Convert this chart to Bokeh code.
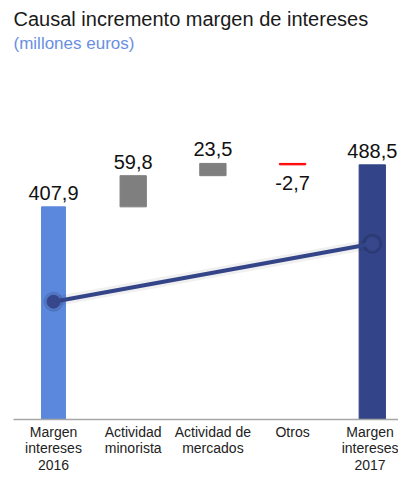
from bokeh.plotting import figure
from bokeh.models import Range1d, FixedTicker, Title, ColumnDataSource
from bokeh.core.properties import value
from bokeh.embed import file_html
from bokeh.resources import INLINE

# ---- data ----
categories = ["Margen\nintereses\n2016", "Actividad\nminorista", "Actividad de\nmercados",
              "Otros", "Margen\nintereses\n2017"]
valores = [407.9, 59.8, 23.5, -2.7, 488.5]          # inicial, variaciones, final
etiquetas = ["407,9", "59,8", "23,5", "-2,7", "488,5"]
linea_y = [226.0, 337.0]                              # línea de evolución (mismas unidades)

FONT = "Liberation Sans"

# waterfall geometry from values
n = len(valores)
xs = list(range(n))
bottoms, tops = [], []
acc = 0.0
for i, v in enumerate(valores):
    if i == 0 or i == n - 1:
        bottoms.append(0.0); tops.append(v); acc = v
    else:
        bottoms.append(min(acc, acc + v)); tops.append(max(acc, acc + v)); acc += v
colors = ["#5b87dc", "#7f7f7f", "#7f7f7f", "#ff0000", "#334488"]
widths = [0.30, 0.33, 0.33, 0.33, 0.33]

p = figure(width=398, height=476, output_backend="svg", toolbar_location=None,
           x_range=Range1d(-0.502, 4.329), y_range=Range1d(0, 704),
           min_border_left=13, min_border_right=0, min_border_top=52, min_border_bottom=0,
           title=None, outline_line_color=None)

p.add_layout(Title(text="(millones euros)", text_font_size="17px", text_color="#6a8fe0",
                   text_font=FONT, text_font_style="normal", standoff=0, offset=0), "above")
p.add_layout(Title(text="Causal incremento margen de intereses", text_font_size="20px",
                   text_color="#1a1a1a", text_font=FONT, text_font_style="normal",
                   standoff=3, offset=0), "above")

src = ColumnDataSource(dict(x=xs, bottom=bottoms, top=tops, color=colors, w=widths))
p.vbar(x="x", bottom="bottom", top="top", width="w", color="color", source=src)

# labels
pos_x = [x for x, v in zip(xs, valores) if v >= 0]
pos_y = [t for t, v in zip(tops, valores) if v >= 0]
pos_t = [e for e, v in zip(etiquetas, valores) if v >= 0]
neg_x = [x for x, v in zip(xs, valores) if v < 0]
neg_y = [b for b, v in zip(bottoms, valores) if v < 0]
neg_t = [e for e, v in zip(etiquetas, valores) if v < 0]
p.text(pos_x, pos_y, text=pos_t, text_align="center", text_baseline="bottom", y_offset=-7,
       text_font=value(FONT), text_font_size="20px", text_color="#111111")
p.text(neg_x, neg_y, text=neg_t, text_align="center", text_baseline="top", y_offset=11,
       text_font=value(FONT), text_font_size="20px", text_color="#111111")

# line with soft shadow
lx = [xs[0], xs[-1]]
p.line(lx, linea_y, line_width=10, color="#000000", alpha=0.06)
p.scatter(lx, linea_y, size=19, color="#000000", alpha=0.10)
p.line(lx, linea_y, line_width=4, color="#334488")
p.scatter(lx, linea_y, size=13, color="#37478c")

p.xgrid.visible = False
p.ygrid.visible = False
p.yaxis.visible = False
ax = p.xaxis[0]
ax.ticker = FixedTicker(ticks=xs)
ax.major_label_overrides = {i: c for i, c in enumerate(categories)}
ax.major_tick_line_color = None
ax.minor_tick_line_color = None
ax.major_tick_out = 0
ax.major_tick_in = 0
ax.axis_line_color = "#a6a6a6"
ax.axis_line_width = 1.5
ax.major_label_text_font = FONT
ax.major_label_text_font_size = "14px"
ax.major_label_text_color = "#222222"
ax.major_label_standoff = 4
ax.major_label_text_line_height = 1.05

open("out.html", "w").write(file_html(p, INLINE))
